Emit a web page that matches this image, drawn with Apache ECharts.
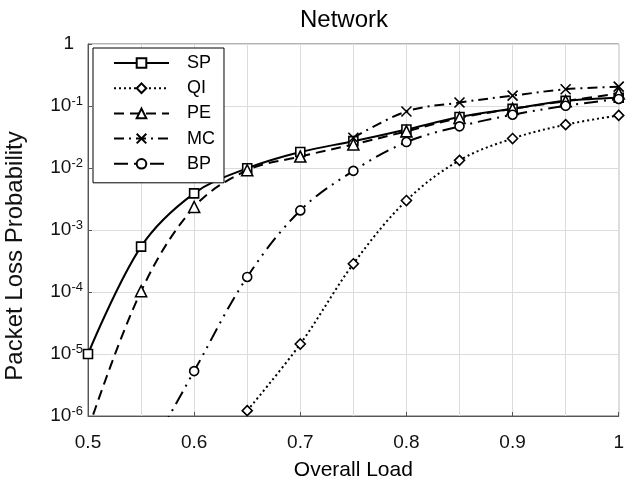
<!DOCTYPE html>
<html>
<head>
<meta charset="utf-8">
<script src="https://cdn.jsdelivr.net/npm/echarts@6/dist/echarts.min.js"></script>
<style>html,body{margin:0;padding:0;background:#fff}#c{width:627px;height:486px}</style>
</head>
<body>
<div id="c"></div>
<script>
var loads = [0.5, 0.55, 0.6, 0.65, 0.7, 0.75, 0.8, 0.85, 0.9, 0.95, 1.0];
var SP = [1.0e-5, 5.4e-4, 3.9e-3, 9.9e-3, 1.81e-2, 2.71e-2, 4.17e-2, 6.64e-2, 9.0e-2, 1.21e-1, 1.36e-1];
var QI = [null, null, null, 1.22e-6, 1.45e-5, 2.85e-4, 2.99e-3, 1.33e-2, 2.99e-2, 5.0e-2, 7.05e-2];
var PE = [6e-7, 1.03e-4, 2.35e-3, 9.2e-3, 1.53e-2, 2.4e-2, 3.9e-2, 6.4e-2, 9.0e-2, 1.2e-1, 1.6e-1];
var MC = [null, null, null, null, null, 3.07e-2, 8.16e-2, 1.137e-1, 1.47e-1, 1.86e-1, 2.05e-1];
var BP = [null, 1.5e-7, 5.3e-6, 1.75e-4, 2.07e-3, 9.0e-3, 2.62e-2, 4.7e-2, 7.23e-2, 1.007e-1, 1.3e-1];
var seriesNames = ['SP', 'QI', 'PE', 'MC', 'BP'];
var xTickLabels = ['0.5', '0.6', '0.7', '0.8', '0.9', '1'];

function pairs(arr) {
  return loads.map(function (x, i) { return [x, arr[i] === null ? '-' : arr[i]]; });
}
var FONT = '"Liberation Sans", Arial, sans-serif';
var xPath = 'path://M0,0L10,10M10,0L0,10';

function mk(name, data, symbol, size, dash) {
  return {
    name: name, type: 'line', data: pairs(data), smooth: 0.35,
    symbol: symbol, symbolSize: size, showSymbol: true, clip: true,
    lineStyle: { color: '#000', width: 2, type: dash },
    itemStyle: { color: '#fff', borderColor: '#000', borderWidth: 1.6 },
    emphasis: { disabled: true }, animation: false, z: 3
  };
}

var chart = echarts.init(document.getElementById('c'), null, { renderer: 'canvas' });
chart.setOption({
  backgroundColor: '#fff',
  animation: false,
  title: {
    text: 'Network', left: 295, top: 3,
    textStyle: { fontFamily: FONT, fontSize: 24, fontWeight: 'normal', color: '#000' }
  },
  grid: { left: 88, top: 44, right: 1, bottom: 66, show: true, borderColor: '#666', borderWidth: 1, backgroundColor: 'transparent' },
  legend: {
    orient: 'vertical', left: 93, top: 48,
    data: seriesNames,
    backgroundColor: '#fff', borderColor: '#000', borderWidth: 1, borderRadius: 0,
    padding: [6, 9, 10, 20],
    itemWidth: 55, itemHeight: 12, itemGap: 7.2,
    textStyle: { fontFamily: FONT, fontSize: 18, color: '#000', lineHeight: 18, padding: [0, 0, 0, 13] },
    selectedMode: false
  },
  xAxis: {
    type: 'value', min: 0.5, max: 1, interval: 0.1,
    name: 'Overall Load', nameLocation: 'middle', nameGap: 44,
    nameTextStyle: { fontFamily: FONT, fontSize: 21, color: '#000' },
    axisLine: { show: true, lineStyle: { color: '#555', width: 1 } },
    axisTick: { show: true, inside: true, length: 4, lineStyle: { color: '#555' } },
    axisLabel: {
      margin: 17, fontFamily: FONT, fontSize: 19, color: '#111',
      alignMinLabel: 'center', alignMaxLabel: 'center',
      formatter: function (v) { return xTickLabels[Math.round((v - 0.5) * 10)]; }
    },
    splitLine: { show: true, lineStyle: { color: '#dcdcdc', width: 1 } },
    minorTick: { show: false, splitNumber: 2 },
    minorSplitLine: { show: true, lineStyle: { color: '#dcdcdc', width: 1 } }
  },
  yAxis: {
    type: 'log', logBase: 10, min: 1e-6, max: 1, splitNumber: 6,
    axisLine: { show: true, lineStyle: { color: '#555', width: 1 } },
    axisTick: { show: true, inside: true, length: 4, lineStyle: { color: '#555' } },
    axisLabel: {
      margin: 5, color: '#111', fontFamily: FONT,
      formatter: function (v) {
        var e = Math.round(Math.log10(v));
        if (e === 0) return '{one|1}';
        return '{b|10}{s|' + e + '}';
      },
      rich: {
        b: { fontFamily: FONT, fontSize: 19, color: '#111' },
        s: { fontFamily: FONT, fontSize: 13, color: '#111', padding: [0, 0, 9, 0] },
        one: { fontFamily: FONT, fontSize: 19, color: '#111', padding: [0, 9, 0, 0] }
      }
    },
    splitLine: { show: true, lineStyle: { color: '#dcdcdc', width: 1 } }
  },
  graphic: [{
    type: 'text', x: 15, y: 256, rotation: Math.PI / 2,
    style: { text: 'Packet Loss Probability', font: '24px ' + FONT, fill: '#111', textAlign: 'center', textVerticalAlign: 'middle' }
  }],
  series: [
    mk('SP', SP, 'rect', 9, 'solid'),
    mk('QI', QI, 'diamond', 10, [2, 3]),
    mk('PE', PE, 'triangle', 11, [10, 6]),
    mk('MC', MC, xPath, 10, [10, 5, 2, 5]),
    mk('BP', BP, 'circle', 9, [14, 6, 2, 6, 2, 6])
  ]
});
</script>
</body>
</html>
